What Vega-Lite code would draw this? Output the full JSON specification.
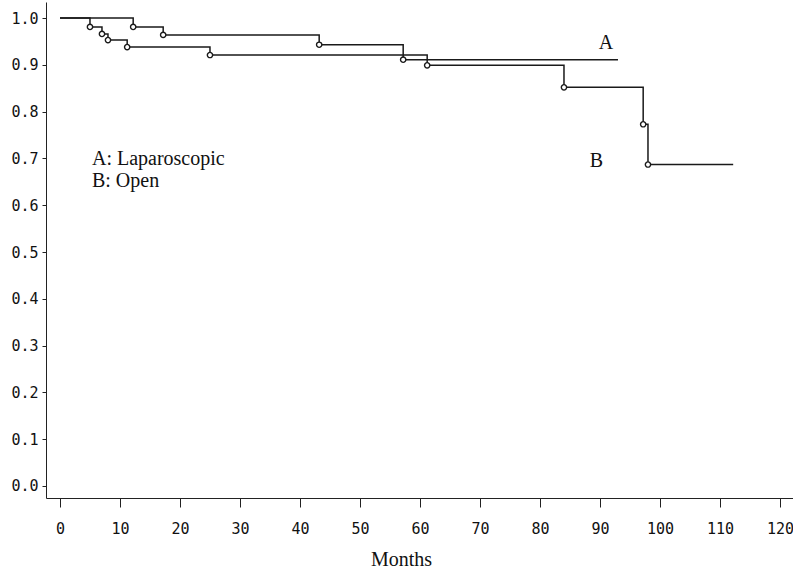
{
  "$schema": "https://vega.github.io/schema/vega-lite/v6.json",
  "autosize": "none",
  "width": 747,
  "height": 496,
  "padding": {"left": 46, "top": 2, "right": 0, "bottom": 76},
  "background": "white",
  "config": {"view": {"stroke": null}},
  "datasets": {
    "curves": [
      {"group": "A", "month": 0, "surv": 1.0, "event": false},
      {"group": "A", "month": 12.2, "surv": 0.981, "event": true},
      {"group": "A", "month": 17.2, "surv": 0.964, "event": true},
      {"group": "A", "month": 43.2, "surv": 0.943, "event": true},
      {"group": "A", "month": 57.2, "surv": 0.911, "event": true},
      {"group": "A", "month": 93, "surv": 0.911, "event": false},
      {"group": "B", "month": 0, "surv": 1.0, "event": false},
      {"group": "B", "month": 5, "surv": 0.981, "event": true},
      {"group": "B", "month": 7, "surv": 0.966, "event": true},
      {"group": "B", "month": 8, "surv": 0.953, "event": true},
      {"group": "B", "month": 11.2, "surv": 0.938, "event": true},
      {"group": "B", "month": 25, "surv": 0.921, "event": true},
      {"group": "B", "month": 61.2, "surv": 0.899, "event": true},
      {"group": "B", "month": 84, "surv": 0.852, "event": true},
      {"group": "B", "month": 97.2, "surv": 0.773, "event": true},
      {"group": "B", "month": 98, "surv": 0.687, "event": true},
      {"group": "B", "month": 112.2, "surv": 0.687, "event": false}
    ],
    "labels": [
      {"text": "A", "month": 89.8, "surv": 0.934},
      {"text": "B", "month": 88.3, "surv": 0.681},
      {"text": "A: Laparoscopic", "month": 5.33, "surv": 0.685},
      {"text": "B: Open", "month": 5.33, "surv": 0.638}
    ]
  },
  "layer": [
    {
      "data": {"name": "curves"},
      "mark": {"type": "line", "interpolate": "step-after", "color": "#1a1a1a", "strokeWidth": 1.5},
      "encoding": {
        "x": {
          "field": "month", "type": "quantitative",
          "scale": {"domain": [-2.33, 122.17], "nice": false, "zero": false},
          "axis": {
            "values": [0, 10, 20, 30, 40, 50, 60, 70, 80, 90, 100, 110, 120],
            "title": "Months",
            "titleFont": "Liberation Serif", "titleFontSize": 20, "titleFontWeight": "normal", "titleColor": "#111",
            "titleX": 355, "titleY": 67, "titleAlign": "center", "titleBaseline": "alphabetic",
            "labelFont": "DejaVu Sans Mono", "labelFontSize": 15, "labelColor": "#111",
            "labelPadding": 14, "tickSize": 9, "tickColor": "#222", "domainColor": "#222",
            "grid": false, "labelFlush": false, "labelOverlap": false
          }
        },
        "y": {
          "field": "surv", "type": "quantitative",
          "scale": {"domain": [-0.0257, 1.0343], "nice": false, "zero": false},
          "axis": {
            "values": [0, 0.1, 0.2, 0.3, 0.4, 0.5, 0.6, 0.7, 0.8, 0.9, 1.0],
            "format": ".1f", "title": null,
            "labelFont": "DejaVu Sans Mono", "labelFontSize": 15, "labelColor": "#111",
            "labelPadding": 4, "tickSize": 4, "tickColor": "#222", "domainColor": "#222",
            "grid": false, "labelFlush": false, "labelOverlap": false
          }
        },
        "detail": {"field": "group"}
      }
    },
    {
      "data": {"name": "curves"},
      "transform": [{"filter": "datum.event"}],
      "mark": {"type": "point", "shape": "circle", "filled": false, "color": "#1a1a1a", "fill": "white", "fillOpacity": 1, "strokeWidth": 1.4, "size": 28},
      "encoding": {
        "x": {"field": "month", "type": "quantitative"},
        "y": {"field": "surv", "type": "quantitative"}
      }
    },
    {
      "data": {"name": "labels"},
      "mark": {"type": "text", "font": "Liberation Serif", "fontSize": 20, "align": "left", "baseline": "alphabetic", "color": "#111"},
      "encoding": {
        "x": {"field": "month", "type": "quantitative"},
        "y": {"field": "surv", "type": "quantitative"},
        "text": {"field": "text"}
      }
    }
  ]
}
